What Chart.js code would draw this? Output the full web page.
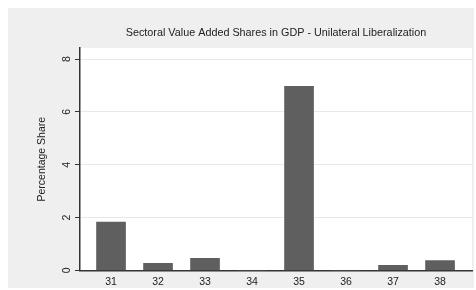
<!DOCTYPE html>
<html lang="en">
<head>
    <meta charset="UTF-8">
    <title>Sectoral Value Added Shares</title>
    <script src="https://cdn.jsdelivr.net/npm/chart.js"></script>
    <style>
        body {
            margin: 0;
            background-color: white;
            font-family: "Liberation Sans", Arial, sans-serif;
        }
        .frame {
            position: absolute;
            left: 8px;
            top: 8px;
            width: 466px;
            height: 280px;
            background-color: #efefef;
        }
    </style>
</head>
<body>
    <div class="frame">
        <canvas id="vaChart" width="466" height="280"></canvas>
    </div>

    <script>
        // sector codes and value added shares (percent of GDP)
        const sectors = [31, 32, 33, 34, 35, 36, 37, 38];
        const shares = [1.83, 0.27, 0.46, 0, 6.97, 0, 0.19, 0.37];
        const yTicks = [0, 2, 4, 6, 8];

        const chartTitle = 'Sectoral Value Added Shares in GDP - Unilateral Liberalization';
        const yTitle = 'Percentage Share';
        const FONT = '"Liberation Sans", Arial, sans-serif';

        // white plot region + rotated y labels, titles
        const stataLook = {
            id: 'stataLook',
            beforeDraw(chart) {
                const a = chart.chartArea;
                const ctx = chart.ctx;
                ctx.save();
                ctx.fillStyle = '#ffffff';
                ctx.fillRect(a.left, a.top, a.right - a.left, a.bottom - a.top);
                ctx.restore();
            },
            afterDraw(chart) {
                const a = chart.chartArea;
                const ctx = chart.ctx;
                const y = chart.scales.y;
                ctx.save();
                ctx.fillStyle = '#222';
                ctx.font = '10.5px ' + FONT;
                ctx.textAlign = 'center';
                ctx.textBaseline = 'middle';
                yTicks.forEach(v => {
                    ctx.save();
                    ctx.translate(a.left - 13, y.getPixelForValue(v));
                    ctx.rotate(-Math.PI / 2);
                    ctx.fillText(String(v), 0, 0);
                    ctx.restore();
                });
                ctx.save();
                ctx.translate(34, (a.top + a.bottom) / 2);
                ctx.rotate(-Math.PI / 2);
                ctx.fillText(yTitle, 0, 0);
                ctx.restore();
                ctx.font = '10.8px ' + FONT;
                ctx.fillText(chartTitle, (a.left + a.right) / 2, 25);
                ctx.restore();
            }
        };

        new Chart(document.getElementById('vaChart'), {
            type: 'bar',
            data: {
                datasets: [{
                    data: sectors.map((s, i) => ({ x: s, y: shares[i] })),
                    backgroundColor: '#5f5f5f',
                    barThickness: 29
                }]
            },
            options: {
                responsive: false,
                animation: false,
                layout: { padding: { left: 67, right: 2, top: 40, bottom: -5 } },
                plugins: {
                    legend: { display: false },
                    tooltip: { enabled: false }
                },
                scales: {
                    x: {
                        type: 'linear',
                        offset: false,
                        min: 30.34,
                        max: 38.68,
                        afterBuildTicks: s => { s.ticks = sectors.map(v => ({ value: v })); },
                        grid: { display: false, drawTicks: false, offset: false },
                        border: { color: '#333', width: 1.5 },
                        ticks: {
                            color: '#222',
                            padding: 5,
                            font: { family: FONT, size: 10.5 }
                        }
                    },
                    y: {
                        min: 0,
                        max: 8.42,
                        afterBuildTicks: s => { s.ticks = yTicks.map(v => ({ value: v })); },
                        grid: {
                            color: '#e8e8e8',
                            tickColor: '#333',
                            tickLength: 5,
                            drawTicks: true
                        },
                        border: { color: '#333', width: 1.5 },
                        ticks: { display: false }
                    }
                }
            },
            plugins: [stataLook]
        });
    </script>
</body>
</html>
